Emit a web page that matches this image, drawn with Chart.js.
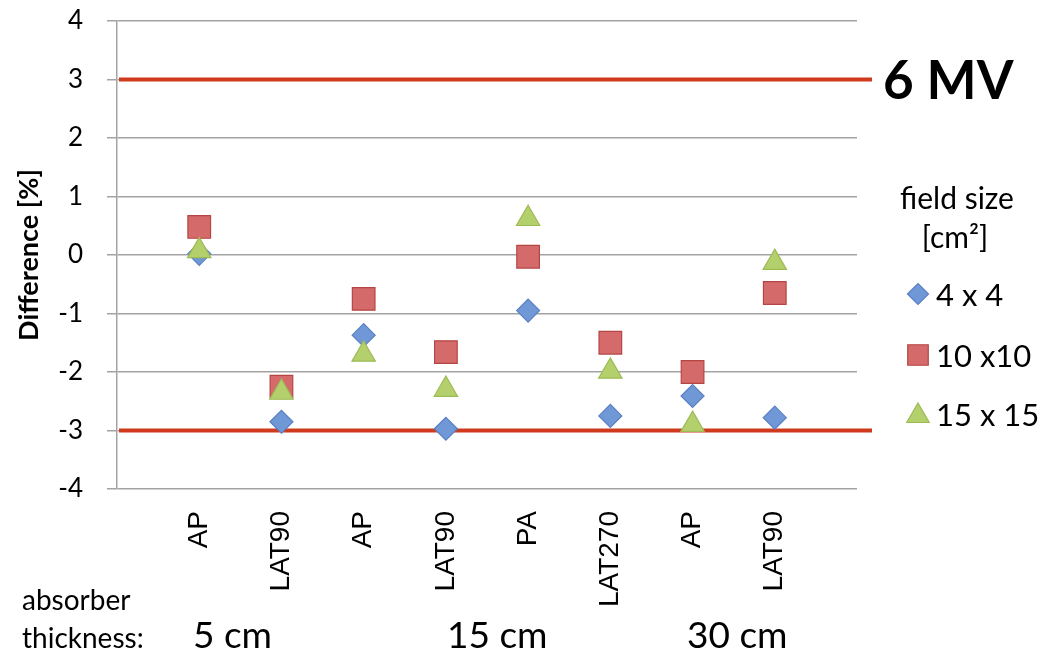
<!DOCTYPE html>
<html>
<head>
<meta charset="utf-8">
<script src="https://cdn.jsdelivr.net/npm/chart.js@4"></script>
<style>
  html, body { margin: 0; padding: 0; background: #ffffff; }
  #wrap { width: 1053px; height: 655px; position: relative; }
</style>
</head>
<body>
<div id="wrap"><canvas id="c"></canvas></div>
<script>
// ---- data ----
const categories = ['AP', 'LAT90', 'AP', 'LAT90', 'PA', 'LAT270', 'AP', 'LAT90'];
const seriesNames = ['4 x 4', '10 x10', '15 x 15'];
const values4x4   = [0.02, -2.85, -1.37, -2.97, -0.95, -2.75, -2.41, -2.78];
const values10x10 = [0.48, -2.25, -0.75, -1.66, -0.03, -1.50, -2.00, -0.65];
const values15x15 = [0.07, -2.35, -1.70, -2.30, 0.62, -1.99, -2.90, -0.13];
const yTicks = [-4, -3, -2, -1, 0, 1, 2, 3, 4];
const limitLines = [3, -3];
const thicknessLabels = ['5 cm', '15 cm', '30 cm'];
const legendTitle = ['field size', '[cm²]'];
const energyLabel = '6 MV';

// padded category list so that marks sit at positions 1..8 of 0..9
const labels = [''].concat(categories, ['']);
const pad = arr => [null].concat(arr, [null]);

const styles = [
  { pointStyle: 'rectRot', radius: 11.5, bg: '#7097d6', border: '#5a80c4' },
  { pointStyle: 'rect', radius: 16, bg: '#d46b6a', border: '#b54543' },
  { pointStyle: 'triangle', radius: 13.5, bg: '#b4d06c', border: '#9dbb55' }
];
const seriesValues = [values4x4, values10x10, values15x15];

const datasets = seriesValues.map((vals, i) => ({
  label: seriesNames[i],
  data: pad(vals),
  showLine: false,
  pointStyle: styles[i].pointStyle,
  pointRadius: styles[i].radius,
  pointHoverRadius: styles[i].radius,
  pointBackgroundColor: styles[i].bg,
  pointBorderColor: styles[i].border,
  pointBorderWidth: 1.2,
  order: 2 - i
}));

const RED = '#cf3a1c';
const CAL = 'Lato, "Open Sans", sans-serif';

const overlay = {
  id: 'overlay',
  beforeDatasetsDraw(chart) {
    const ctx = chart.ctx, y = chart.scales.y, area = chart.chartArea;
    ctx.save();
    ctx.strokeStyle = RED;
    ctx.lineWidth = 4;
    limitLines.forEach(v => {
      const py = y.getPixelForValue(v);
      ctx.beginPath();
      ctx.moveTo(area.left + 2, py);
      ctx.lineTo(area.right + 15, py);
      ctx.stroke();
    });
    ctx.restore();
  },
  afterDraw(chart) {
    const ctx = chart.ctx, y = chart.scales.y;
    ctx.save();
    ctx.fillStyle = '#000';
    // energy label
    ctx.font = 'bold 53px ' + CAL;
    ctx.textAlign = 'left';
    ctx.textBaseline = 'middle';
    ctx.fillText(energyLabel, 883, y.getPixelForValue(limitLines[0]) + 2);
    // legend title
    ctx.font = '30px ' + CAL;
    ctx.textAlign = 'center';
    ctx.textBaseline = 'alphabetic';
    ctx.fillText(legendTitle[0], 957, 209);
    ctx.fillText(legendTitle[1], 955, 248);
    // legend items
    const rowY = [294, 355, 414];
    ctx.textAlign = 'left';
    ctx.textBaseline = 'middle';
    seriesNames.forEach((name, i) => {
      ctx.fillStyle = styles[i].bg;
      ctx.strokeStyle = styles[i].border;
      ctx.lineWidth = 1.2;
      const r = i === 0 ? 10.5 : (i === 1 ? 14.5 : 13);
      Chart.helpers.drawPoint(ctx, { pointStyle: styles[i].pointStyle, radius: r, rotation: 0, borderWidth: 1.2 }, 918, rowY[i] + (i === 2 ? 2 : 0));
      ctx.fillStyle = '#000';
      ctx.font = '31px ' + CAL;
      ctx.fillText(name, 936, rowY[i] + 2);
    });
    // absorber thickness captions
    ctx.textAlign = 'left';
    ctx.textBaseline = 'alphabetic';
    ctx.font = '28px ' + CAL;
    ctx.fillText('absorber', 22, 610);
    ctx.fillText('thickness:', 22, 648);
    ctx.font = '37px ' + CAL;
    const capX = [193, 447, 687];
    thicknessLabels.forEach((t, i) => ctx.fillText(t, capX[i], 648));
    ctx.restore();
  }
};

new Chart(document.getElementById('c'), {
  type: 'line',
  data: { labels: labels, datasets: datasets },
  options: {
    responsive: true,
    maintainAspectRatio: false,
    animation: false,
    layout: { padding: { left: 0, right: 196, top: 21, bottom: 0 } },
    plugins: { legend: { display: false }, tooltip: { enabled: false } },
    scales: {
      x: {
        type: 'category',
        offset: false,
        grid: { display: false, drawTicks: false },
        border: { display: false },
        ticks: {
          autoSkip: false,
          minRotation: 90,
          maxRotation: 90,
          padding: 22,
          color: '#000',
          font: { family: '"Liberation Sans", Arial, sans-serif', size: 28 }
        },
        afterFit(scale) { scale.height = 166; }
      },
      y: {
        min: -4,
        max: 4,
        afterBuildTicks(scale) { scale.ticks = yTicks.map(v => ({ value: v })); },
        grid: { color: '#a3a3a3', lineWidth: 1.5, tickLength: 10, drawTicks: true },
        border: { display: true, color: '#a3a3a3', width: 1.5 },
        ticks: {
          padding: 24,
          color: '#000',
          font: { family: CAL, size: 26 }
        },
        title: {
          display: true,
          text: 'Difference [%]',
          color: '#000',
          font: { family: CAL, size: 27, weight: 'bold' },
          padding: { top: 13, bottom: 0 }
        },
        afterFit(scale) {
          scale.width = 117;
          scale.paddingTop = 0;
          scale.paddingBottom = 0;
        }
      }
    }
  },
  plugins: [overlay]
});
</script>
</body>
</html>
